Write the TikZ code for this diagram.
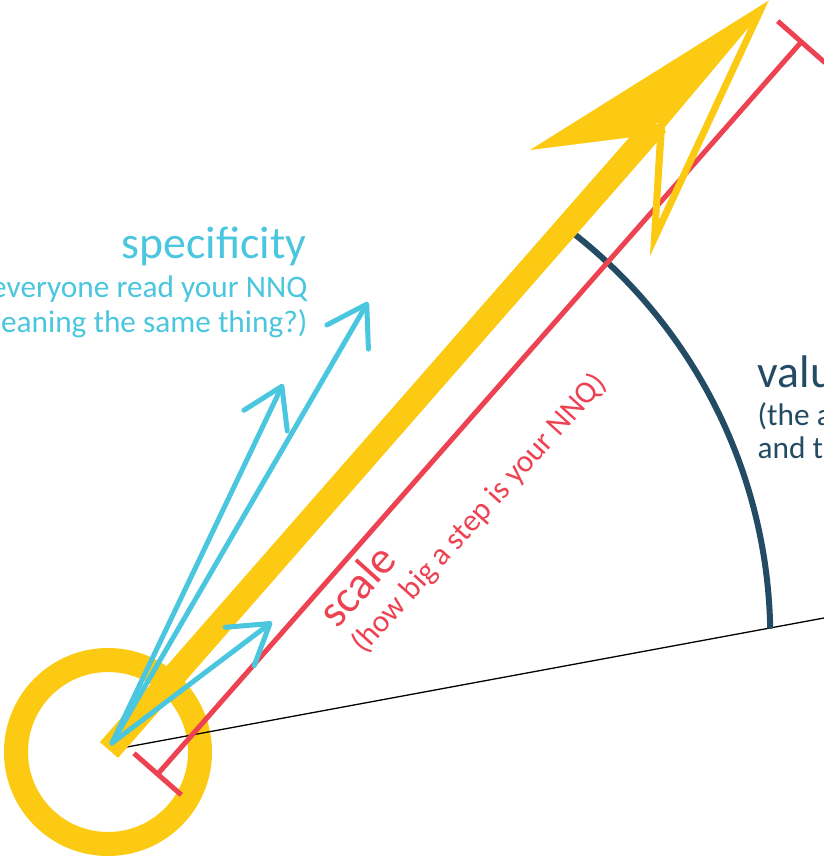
\documentclass[tikz,border=0pt]{standalone}
\usepackage{fontspec}
\setmainfont{Carlito}
\usetikzlibrary{arrows.meta}
\definecolor{nnqyellow}{HTML}{FCCA12}
\definecolor{nnqcyan}{HTML}{4AC6DE}
\definecolor{nnqred}{HTML}{EC4252}
\definecolor{nnqnavy}{HTML}{234B64}
\tikzstyle{ring} = [draw=nnqyellow, line width=0.24cm]
\tikzstyle{shaft} = [draw=nnqyellow, line width=0.24cm]
\tikzstyle{specarrow} = [draw=nnqcyan, line width=0.05cm, line cap=round, -{Straight Barb[length=0.38cm, width=0.48cm, round]}]
\tikzstyle{ruler} = [draw=nnqred, line width=0.05cm, {Bar[width=0.63cm]}-{Bar[width=0.63cm]}]
\tikzstyle{valuearc} = [draw=nnqnavy, line width=0.06cm]
\tikzstyle{refline} = [draw=black, line width=0.013cm]
\tikzstyle{title} = [inner sep=0pt, font=\fontsize{13}{15}\selectfont]
\tikzstyle{note} = [inner sep=0pt, font=\fontsize{8.9}{10}\selectfont]

\begin{document}
\begin{tikzpicture}[x=0.01cm, y=-0.01cm]
	\path[use as bounding box, clip] (0,0) rectangle (824,856);

	% points, in pixels from the top left
	\coordinate (hub) at (108,752);
	\coordinate (start) at (112,743);
	\coordinate (tail) at (109,750);
	\coordinate (neck) at (657,124);
	\coordinate (tip) at (768,1);
	\coordinate (barb) at (530,150);
	\coordinate (notch) at (633,137);
	\coordinate (inner) at (662,120);
	\coordinate (refstart) at (127,747);
	\coordinate (refend) at (824,618);
	\coordinate (arcstart) at (573,233);
	\coordinate (rulerlow) at (156,776);
	\coordinate (rulerhigh) at (803,40);
	\coordinate (specA) at (368,302);
	\coordinate (specB) at (283,384);
	\coordinate (specC) at (272,622);

	\draw[ring] (hub) circle[radius=92];
	\draw[refline] (refstart) -- (refend);
	\draw[valuearc] (arcstart) arc[start angle=52, end angle=1, radius=5.13cm];
	\draw[ruler] (rulerlow) -- (rulerhigh);

	% the big yellow arrow
	\draw[shaft] (tail) -- (neck);
	\fill[nnqyellow] (tip) -- (barb) -- (notch) -- (inner) -- cycle;
	\fill[nnqyellow, even odd rule] (769,0) -- (658,120) -- (650,256) -- cycle
		(749,27) -- (665,127) -- (659,220) -- cycle;

	\draw[specarrow] (start) -- (specA);
	\draw[specarrow] (start) -- (specB);
	\draw[specarrow] (start) -- (specC);

	\node[title, text=nnqcyan, anchor=base east] (spectitle) at (307,258) {specificity};
	\node[note, text=nnqcyan, anchor=base east] (specline1) at (308,297) {everyone read your NNQ};
	\node[note, text=nnqcyan, anchor=base east] (specline2) at (308,332) {eaning the same thing?)};

	\node[title, text=nnqnavy, anchor=base west] (valuetitle) at (757,387) {valu};
	\node[note, text=nnqnavy, anchor=base west] (valueline1) at (757,425) {(the a};
	\node[note, text=nnqnavy, anchor=base west] (valueline2) at (757,458) {and th};

	\node[title, text=nnqred, anchor=base west, rotate=48] (scaletitle) at (337,630) {scale};
	\node[note, text=nnqred, anchor=base west, rotate=48] (scaleline) at (364,655) {(how big a step is your NNQ)};
\end{tikzpicture}
\end{document}
